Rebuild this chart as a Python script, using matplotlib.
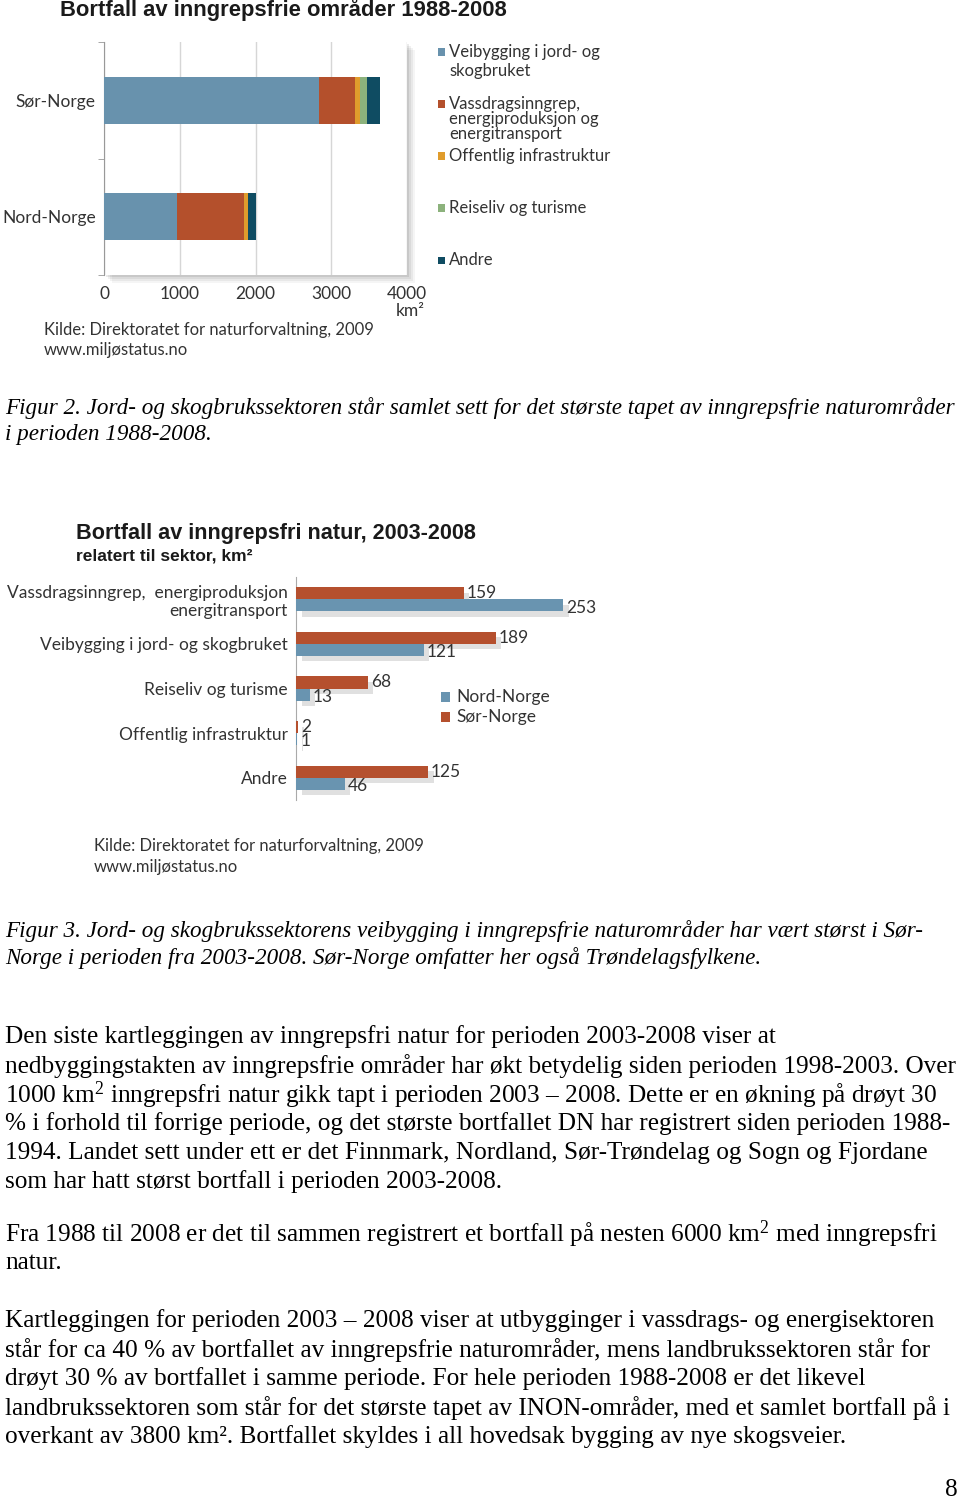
import matplotlib
matplotlib.use('Agg')
import matplotlib.pyplot as plt
import matplotlib.patheffects as pe
from matplotlib.patches import Rectangle
import numpy as np

plt.rcParams['mathtext.fontset'] = 'custom'
plt.rcParams['mathtext.rm'] = 'Liberation Serif'
plt.rcParams['mathtext.it'] = 'Liberation Serif:italic'

# --- data, figur 2 (1988-2008, km2) ---
regioner = ['Nord-Norge', 'Sør-Norge']
sektorer1 = ['Veibygging i jord- og\nskogbruket',
             'Vassdragsinngrep,\nenergiproduksjon og\nenergitransport',
             'Offentlig infrastruktur',
             'Reiseliv og turisme',
             'Andre']
veibygging = [960, 2840]
vassdrag = [890, 480]
offentlig = [50, 55]
reiseliv = [5, 100]
andre = [100, 175]
farger1 = ['#6892ad', '#b4502c', '#e09c2c', '#8cb27c', '#0f4c62']
xticks1 = [0, 1000, 2000, 3000, 4000]

# --- data, figur 3 (2003-2008, km2) ---
sektorer2 = ['Vassdragsinngrep,  energiproduksjon\nenergitransport',
             'Veibygging i jord- og skogbruket',
             'Reiseliv og turisme',
             'Offentlig infrastruktur',
             'Andre']
sor = [159, 189, 68, 2, 125]
nord = [253, 121, 13, 1, 46]

W, H = 960, 1503
fig = plt.figure(figsize=(9.6, 15.03), dpi=100)

def fx(x):
    return x / W

def fy(y):
    return 1 - y / H

def box(l, t, r, b):
    return [fx(l), fy(b), (r - l) / W, (b - t) / H]

def txt(x, y, s, **kw):
    fig.text(fx(x), fy(y), s, **kw)

def firkant(x, y, c, s=7):
    fig.add_artist(Rectangle((fx(x), fy(y + s / 2)), s / W, s / H,
                             transform=fig.transFigure, color=c, lw=0))

sans = ['Lato', 'DejaVu Sans']
bold = ['Liberation Sans', 'DejaVu Sans']
serif = ['Liberation Serif', 'DejaVu Serif']
grå = '#333'

# ================= Figur 2 =================
txt(60, 10, 'Bortfall av inngrepsfrie områder 1988-2008', family=bold,
    weight='bold', fontsize=15.8, va='center', color='#1a1a1a')

# skygge bak plottet
for i, a in enumerate([0.04, 0.05, 0.06, 0.08]):
    d = 8 - 2 * i
    fig.add_artist(Rectangle((fx(104 + d), fy(275 + d)), 303 / W, 233 / H,
                             transform=fig.transFigure, color='k', alpha=a,
                             lw=0, zorder=0))

ax1 = fig.add_axes(box(104, 42, 407, 275))
ax1.set_facecolor('white')
y = np.arange(len(regioner))
venstre = np.zeros(len(regioner))
for serie, c in zip([veibygging, vassdrag, offentlig, reiseliv, andre], farger1):
    ax1.barh(y, serie, left=venstre, height=0.40, color=c, zorder=3)
    venstre += np.array(serie)
ax1.set_xlim(0, 4000)
ax1.set_ylim(-0.5, 1.5)
ax1.set_xticks(xticks1)
ax1.set_xticklabels([str(t) for t in xticks1], family=sans, fontsize=12.5, color=grå)
ax1.tick_params(axis='x', length=0, pad=8)
ax1.set_yticks(y)
ax1.set_yticklabels(regioner, family=sans, fontsize=12.5, color=grå)
ax1.tick_params(axis='y', length=0, pad=6)
ax1.set_yticks([-0.5, 0.5, 1.5], minor=True)
ax1.tick_params(axis='y', which='minor', length=4, color='#999')
ax1.grid(axis='x', color='#d6d6d6', lw=1, zorder=0)
for s in ['top', 'right', 'bottom']:
    ax1.spines[s].set_visible(False)
ax1.spines['left'].set_color('#999')

txt(410, 311, 'km²', family=sans, fontsize=12.5, ha='center', va='center', color=grå)

leg_y = [52, 104, 156, 208, 260]
leg_sp = [19, 15, 15, 15, 15]
for lab, c, y0, sp in zip(sektorer1, farger1, leg_y, leg_sp):
    firkant(438, y0, c)
    for i, linje in enumerate(lab.split('\n')):
        txt(449, y0 + i * sp, linje, family=sans, fontsize=12, va='center', color=grå)

txt(44, 330, 'Kilde: Direktoratet for naturforvaltning, 2009', family=sans,
    fontsize=12, va='center', color=grå)
txt(44, 350, 'www.miljøstatus.no', family=sans, fontsize=12, va='center', color=grå)

txt(5, 408, 'Figur 2. Jord- og skogbrukssektoren står samlet sett for det største tapet av inngrepsfrie naturområder',
    family=serif, style='italic', fontsize=16.7, va='center')
txt(5, 434, 'i perioden 1988-2008.', family=serif, style='italic', fontsize=16.7, va='center')

# ================= Figur 3 =================
txt(76, 533, 'Bortfall av inngrepsfri natur, 2003-2008', family=bold,
    weight='bold', fontsize=15.6, va='center', color='#1a1a1a')
txt(76, 556, 'relatert til sektor, km²', family=bold, weight='bold',
    fontsize=12.5, va='center', color='#1a1a1a')

ax2 = fig.add_axes(box(296, 577, 600, 800))
ax2.patch.set_alpha(0)
y2 = np.arange(len(sektorer2))
h = 0.27
skygge = [pe.SimplePatchShadow(offset=(4, -4), shadow_rgbFace='#999', alpha=0.3), pe.Normal()]
rb = ax2.barh(y2 - h / 2, sor, height=h, color='#b5502e', zorder=3)
bb = ax2.barh(y2 + h / 2, nord, height=h, color='#6994b0', zorder=3)
for p in list(rb) + list(bb):
    p.set_path_effects(skygge)
ax2.set_xlim(0, 288)
ax2.set_ylim(4.5, -0.5)
ax2.set_xticks([])
ax2.set_yticks(y2)
ax2.set_yticklabels(sektorer2, family=sans, fontsize=12.5, color=grå)
ax2.tick_params(axis='y', length=0, pad=6)
for s in ['top', 'right', 'bottom']:
    ax2.spines[s].set_visible(False)
ax2.spines['left'].set_color('#aaa')
for yy, v in zip(y2, sor):
    ax2.text(v + 3, yy - h / 2, str(v), family=sans, fontsize=12.5, va='center', color=grå)
for yy, v in zip(y2, nord):
    ax2.text(v + 3, yy + h / 2 + 0.05, str(v), family=sans, fontsize=12.5, va='center', color=grå)

firkant(441, 697, '#6994b0', 9)
firkant(441, 717, '#b5502e', 9)
txt(456, 697, 'Nord-Norge', family=sans, fontsize=12.5, va='center', color=grå)
txt(456, 717, 'Sør-Norge', family=sans, fontsize=12.5, va='center', color=grå)

txt(94, 846, 'Kilde: Direktoratet for naturforvaltning, 2009', family=sans,
    fontsize=12, va='center', color=grå)
txt(94, 867, 'www.miljøstatus.no', family=sans, fontsize=12, va='center', color=grå)

txt(5, 931, 'Figur 3. Jord- og skogbrukssektorens veibygging i inngrepsfrie naturområder har vært størst i Sør-',
    family=serif, style='italic', fontsize=16.7, va='center')
txt(5, 958, 'Norge i perioden fra 2003-2008. Sør-Norge omfatter her også Trøndelagsfylkene.',
    family=serif, style='italic', fontsize=16.7, va='center')

# ================= brødtekst =================
avsnitt = [
    (1037, 'Den siste kartleggingen av inngrepsfri natur for perioden 2003-2008 viser at'),
    (1066, 'nedbyggingstakten av inngrepsfrie områder har økt betydelig siden perioden 1998-2003. Over'),
    (1095, '1000 km$^2$ inngrepsfri natur gikk tapt i perioden 2003 – 2008. Dette er en økning på drøyt 30'),
    (1124, '% i forhold til forrige periode, og det største bortfallet DN har registrert siden perioden 1988-'),
    (1153, '1994. Landet sett under ett er det Finnmark, Nordland, Sør-Trøndelag og Sogn og Fjordane'),
    (1182, 'som har hatt størst bortfall i perioden 2003-2008.'),
    (1234, 'Fra 1988 til 2008 er det til sammen registrert et bortfall på nesten 6000 km$^2$ med inngrepsfri'),
    (1263, 'natur.'),
    (1321, 'Kartleggingen for perioden 2003 – 2008 viser at utbygginger i vassdrags- og energisektoren'),
    (1350, 'står for ca 40 % av bortfallet av inngrepsfrie naturområder, mens landbrukssektoren står for'),
    (1379, 'drøyt 30 % av bortfallet i samme periode. For hele perioden 1988-2008 er det likevel'),
    (1408, 'landbrukssektoren som står for det største tapet av INON-områder, med et samlet bortfall på i'),
    (1437, 'overkant av 3800 km². Bortfallet skyldes i all hovedsak bygging av nye skogsveier.'),
]
for yy, linje in avsnitt:
    txt(5, yy, linje, family=serif, fontsize=18.2, va='center')

txt(958, 1490, '8', family=serif, fontsize=18.2, ha='right', va='center')

fig.savefig('out.png', dpi=100)
